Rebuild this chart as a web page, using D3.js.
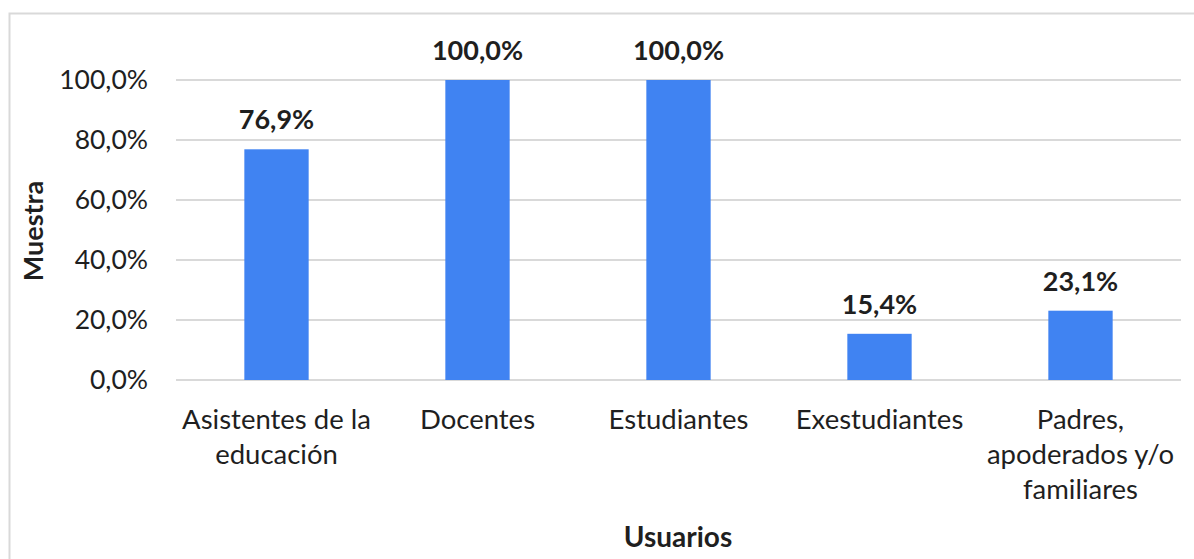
<!DOCTYPE html>
<html>
<head>
<meta charset="utf-8">
<script src="https://cdn.jsdelivr.net/npm/d3@7"></script>
<style>
  html, body { margin: 0; padding: 0; background: #fff; }
  svg { display: block; }
  text { font-family: Lato, "Open Sans", sans-serif; fill: #1f1f1f; }
</style>
</head>
<body>
<svg id="chart" width="1194" height="559"></svg>
<script>
const categories = [
  ["Asistentes de la", "educación"],
  ["Docentes"],
  ["Estudiantes"],
  ["Exestudiantes"],
  ["Padres,", "apoderados y/o", "familiares"]
];
const values = [76.9, 100.0, 100.0, 15.4, 23.1];
const yTicks = [0, 20, 40, 60, 80, 100];
const xTitle = "Usuarios";
const yTitle = "Muestra";

const fmt = v => v.toFixed(1).replace(".", ",") + "%";

const svg = d3.select("#chart");
const W = 1194, H = 559;

// outer chart border
svg.append("path")
  .attr("d", `M9.5,${H} L9.5,13.5 L${W},13.5`)
  .attr("fill", "none").attr("stroke", "#d9d9d9").attr("stroke-width", 2);

const x = d3.scaleBand()
  .domain(d3.range(categories.length))
  .range([176, 1181])
  .paddingInner(0.68)
  .paddingOuter(0.34);

const y = d3.scaleLinear().domain([0, 100]).range([380, 80]);

// gridlines
svg.append("g").selectAll("line").data(yTicks).join("line")
  .attr("x1", 176).attr("x2", 1181)
  .attr("y1", d => y(d)).attr("y2", d => y(d))
  .attr("stroke", "#d9d9d9").attr("stroke-width", 2);

// y tick labels
svg.append("g").selectAll("text").data(yTicks).join("text")
  .attr("x", 148).attr("y", d => y(d))
  .attr("dy", "0.35em")
  .attr("text-anchor", "end")
  .attr("font-size", 26.5)
  .text(d => fmt(d));

// bars
svg.append("g").selectAll("rect").data(values).join("rect")
  .attr("x", (d, i) => x(i))
  .attr("width", x.bandwidth())
  .attr("y", d => y(d))
  .attr("height", d => y(0) - y(d))
  .attr("fill", "#4083f2");

// value labels
svg.append("g").selectAll("text").data(values).join("text")
  .attr("x", (d, i) => x(i) + x.bandwidth() / 2)
  .attr("y", d => y(d) - 20)
  .attr("text-anchor", "middle")
  .attr("font-size", 27)
  .attr("font-weight", "bold")
  .text(d => fmt(d));

// category labels
const cat = svg.append("g").selectAll("text").data(categories).join("text")
  .attr("x", (d, i) => x(i) + x.bandwidth() / 2)
  .attr("y", 429)
  .attr("text-anchor", "middle")
  .attr("font-size", 27.5);
cat.selectAll("tspan").data(d => d).join("tspan")
  .attr("x", function () { return this.parentNode.getAttribute("x"); })
  .attr("dy", (d, j) => j === 0 ? 0 : 35)
  .text(d => d);

// axis titles
svg.append("text")
  .attr("x", 678).attr("y", 547)
  .attr("text-anchor", "middle")
  .attr("font-size", 28).attr("font-weight", "bold")
  .text(xTitle);

svg.append("text")
  .attr("transform", "translate(43,231) rotate(-90)")
  .attr("text-anchor", "middle")
  .attr("font-size", 27).attr("font-weight", "bold")
  .text(yTitle);
</script>
</body>
</html>
